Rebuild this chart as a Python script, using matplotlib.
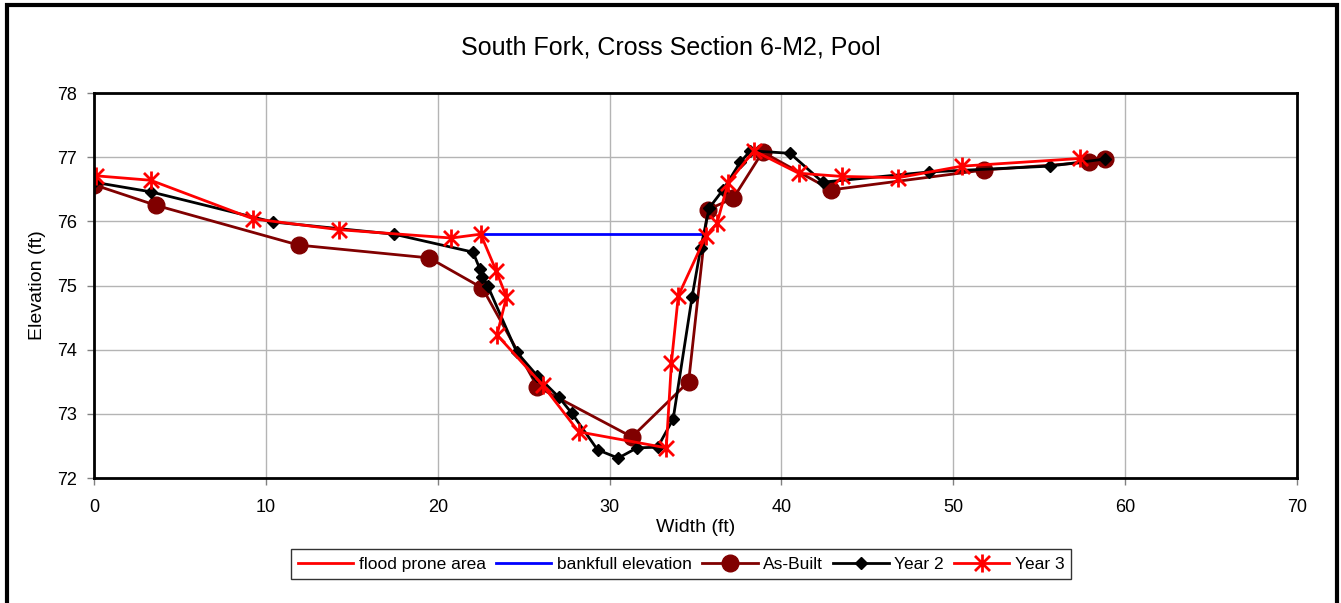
import matplotlib
matplotlib.use("Agg")
import matplotlib.pyplot as plt
from matplotlib.patches import Rectangle
from matplotlib.path import Path

plt.rcParams['font.family'] = ['Liberation Sans', 'DejaVu Sans']

title = "South Fork, Cross Section 6-M2, Pool"

# Survey profiles: station (ft) and elevation (ft)
asbuilt_x = [0.0, 3.6, 11.9, 19.5, 22.6, 25.8, 31.3, 34.6, 35.7, 37.2, 38.9, 42.9, 51.8, 57.9, 58.8]
asbuilt_y = [76.57, 76.25, 75.63, 75.43, 74.96, 73.42, 72.64, 73.50, 76.18, 76.36, 77.08, 76.49, 76.80, 76.92,
             76.97]

year2_x = [0.0, 3.3, 10.4, 17.45, 22.05, 22.45, 22.6, 22.9, 24.6, 25.8, 27.05, 27.8, 29.3, 30.5,
           31.6, 32.8, 33.7, 34.8, 35.3, 35.8, 36.6, 37.6, 38.2, 40.5, 42.4, 48.6, 55.6, 58.8]
year2_y = [76.61, 76.46, 75.99, 75.80, 75.52, 75.26, 75.13, 75.00, 73.96, 73.59, 73.26, 73.01, 72.44, 72.31,
           72.47, 72.48, 72.92, 74.82, 75.58, 76.21, 76.49, 76.92, 77.10, 77.06, 76.61, 76.77, 76.86, 76.97]

year3_x = [0.1, 3.3, 9.25, 14.25, 20.8, 22.5, 23.4, 24.0, 23.45, 26.1, 28.2, 33.3, 33.6, 34.0,
           35.6, 36.25, 36.9, 38.4, 41.0, 43.5, 46.8, 50.5, 57.4]
year3_y = [76.71, 76.64, 76.04, 75.87, 75.74, 75.80, 75.23, 74.82, 74.23, 73.45, 72.72, 72.47, 73.80, 74.84,
           75.77, 75.97, 76.60, 77.10, 76.75, 76.70, 76.68, 76.86, 76.98]

bankfull_x = [22.5, 35.6]
bankfull_y = [75.8, 75.8]

flood_x = []
flood_y = []

x_ticks = [0, 10, 20, 30, 40, 50, 60, 70]
y_ticks = [72, 73, 74, 75, 76, 77, 78]

# star marker: an X crossed by a vertical bar
star = Path([(-1, -1), (1, 1), (-1, 1), (1, -1), (0, -1.2), (0, 1.2)],
            [Path.MOVETO, Path.LINETO, Path.MOVETO, Path.LINETO, Path.MOVETO, Path.LINETO])

fig = plt.figure(figsize=(13.41, 6.03), dpi=100)
ax = fig.add_axes([94 / 1341, 1 - 478 / 603, (1297 - 94) / 1341, (478 - 93) / 603])

# outer chart border
fig.patches.append(Rectangle((7 / 1341, -0.05), (1337 - 7) / 1341, 1.05 - 5 / 603,
                             transform=fig.transFigure, fill=False, edgecolor='black', linewidth=3))

ax.plot(flood_x, flood_y, color='#ff0000', linewidth=2, label='flood prone area')
ax.plot(bankfull_x, bankfull_y, color='#0000ff', linewidth=2, label='bankfull elevation')
ax.plot(asbuilt_x, asbuilt_y, color='#800000', linewidth=2, marker='o', markersize=12,
        label='As-Built')
ax.plot(year2_x, year2_y, color='black', linewidth=2, marker='D', markersize=6, label='Year 2')
ax.plot(year3_x, year3_y, color='#ff0000', linewidth=2, marker=star, markersize=13,
        markeredgewidth=2, label='Year 3')

ax.set_xlim(0, 70)
ax.set_ylim(72, 78)
ax.set_xticks(x_ticks)
ax.set_yticks(y_ticks)
ax.grid(True, color='#b4b4b4', linewidth=1)
ax.set_axisbelow(True)
for s in ax.spines.values():
    s.set_linewidth(2)
    s.set_color('black')
ax.tick_params(axis='both', direction='out', length=5, width=1, color='#808080',
               labelsize=13, pad=7)
ax.tick_params(axis='x', pad=10)

ax.set_xlabel('Width (ft)', fontsize=14, labelpad=2)
ax.set_ylabel('Elevation (ft)', fontsize=14, labelpad=8)
fig.text(0.5, 1 - 47 / 603, title, fontsize=18, ha='center', va='center')

leg = ax.legend(loc='center', bbox_to_anchor=(681 / 1341, 1 - 564 / 603),
                bbox_transform=fig.transFigure, ncol=5, fontsize=12.5, frameon=True,
                fancybox=False, edgecolor='black', handlelength=3.2, handletextpad=0.3,
                columnspacing=0.6, borderpad=0.4)
leg.get_frame().set_linewidth(1)

fig.savefig('out.png', dpi=100)
